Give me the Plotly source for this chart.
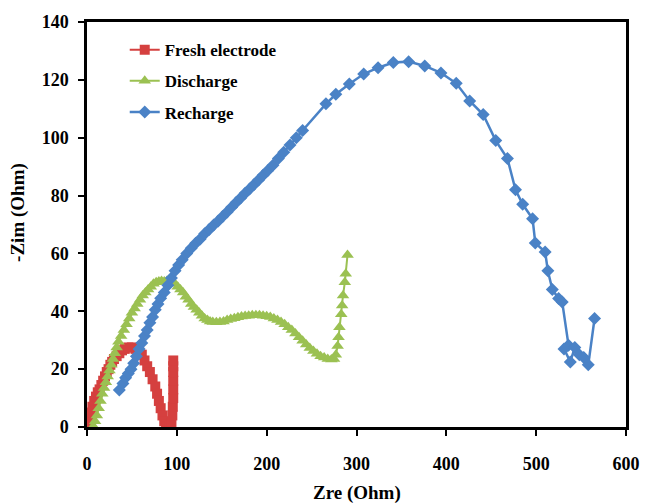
import plotly.graph_objects as go

# Fresh electrode (red squares)
fresh_x = [1, 2, 4, 6, 8, 10, 12, 14, 16, 18, 20, 22, 24, 26, 28, 30, 33, 36, 39, 42, 46, 50, 54, 58,
           61, 64, 67, 70, 73, 76, 78, 80, 82, 84, 86, 88, 90, 92, 94, 95, 95.5, 96, 96, 96, 96, 96, 96]
fresh_y = [1, 3, 5, 7, 9, 10.5, 12, 13, 14.5, 16, 17.5, 19, 20, 21.5, 22.5, 23.5, 24.5, 25.5, 26.5, 27,
           27.5, 27.5, 27, 26, 25, 23, 21, 19, 16.5, 14, 11.5, 9, 6.5, 4, 2, 0.8, 0.3, 0.5, 1.5, 4, 7,
           10, 13, 16, 19, 21, 23]

# Discharge (green triangles)
dis_x = [7, 9, 11, 13, 15, 17, 19, 21, 23, 25, 27, 29, 31, 33, 35, 38, 41, 44, 47, 50, 53, 56, 59, 62,
         65, 68, 71, 74, 77, 80, 83, 86, 89, 92, 95, 98, 101, 104, 107, 110, 113, 116, 119, 122, 125,
         128, 131, 134, 137, 140, 144, 148, 152, 156, 160, 164, 168, 172, 176, 180, 184, 188, 192, 196,
         200, 204, 208, 212, 216, 220, 224, 228, 232, 236, 240, 244, 248, 252, 256, 260, 264, 268, 272,
         275, 277, 279, 280, 281, 283, 284, 285, 287, 288, 290]
dis_y = [0.3, 2, 4, 6.5, 9, 11.5, 13.5, 15.5, 17.5, 19.5, 21.5, 23.5, 25.5, 27.5, 29.5, 31.5, 33.5,
         35.5, 37.5, 39.5, 41, 42.5, 44, 45.5, 46.5, 47.5, 48.5, 49.5, 50, 50.3, 50.5, 50.3, 50.5, 50.5,
         50.3, 49.5, 48.5, 47.5, 46.5, 45, 44, 42.5, 41.5, 40.5, 39.5, 38.5, 37.5, 37, 36.5, 36.3, 36.2,
         36.3, 36.5, 37, 37.3, 37.6, 37.9, 38.2, 38.4, 38.5, 38.6, 38.6, 38.6, 38.5, 38.3, 38, 37.5, 37,
         36.3, 35.5, 34.5, 33.5, 32.3, 31, 29.8, 28.5, 27.3, 26.3, 25.3, 24.5, 24, 23.5, 23.3, 23.5, 25,
         28, 31, 34.5, 39, 42, 45.5, 50, 53, 59.5]

# Recharge (blue diamonds)
rec_x = [36, 40, 43, 46, 49, 52, 55, 58, 61, 64, 67, 70, 73, 76, 79, 82, 86, 90, 94, 98, 102, 106, 111,
         116, 121, 126, 131, 136, 141, 146, 151, 156, 161, 166, 171, 176, 181, 186, 191, 196, 201, 207,
         213, 219, 226, 233, 240, 266, 277, 292, 308, 324, 341, 358, 376, 394, 411, 426, 441, 455, 468,
         477, 485, 496, 499, 510, 513, 518, 525, 529, 536, 531, 538, 543, 548, 553, 558, 565]
rec_y = [12.8, 15, 17, 18.5, 20, 22, 24.5, 27, 29, 31.5, 33.5, 36, 38, 40.5, 42.5, 44.5, 46.5, 49, 51.5,
         54, 56, 57.8, 60, 61.8, 63.5, 65, 66.8, 68.3, 69.8, 71.2, 72.8, 74.3, 76, 77.6, 79.2, 80.8, 82.3,
         83.8, 85.4, 87, 88.6, 90.5, 92.8, 95, 97.5, 100, 102.5, 111.7, 115, 118.6, 122, 124.2, 126,
         126.3, 124.8, 122.4, 118.8, 112.7, 108, 99, 92.8, 82, 77, 72, 63.6, 60.5, 54, 47.5, 44.4, 43.2,
         28.3, 27, 22.5, 27.5, 25, 24, 21.5, 37.5]

x_ticks = [0, 100, 200, 300, 400, 500, 600]
y_ticks = [0, 20, 40, 60, 80, 100, 120, 140]

RED = "#D5403F"
GREEN = "#9BC152"
BLUE = "#4A82C6"
FONT = "Liberation Serif"

fig = go.Figure()
fig.add_trace(go.Scatter(x=fresh_x, y=fresh_y, mode="lines+markers", name="Fresh electrode",
                         legendgroup="a",
                         line=dict(color=RED, width=2),
                         marker=dict(symbol="square", size=10, color=RED)))
fig.add_trace(go.Scatter(x=dis_x, y=dis_y, mode="lines+markers", name="Discharge",
                         legendgroup="b",
                         line=dict(color=GREEN, width=2),
                         marker=dict(symbol="triangle-up", size=11, color=GREEN)))
fig.add_trace(go.Scatter(x=rec_x, y=rec_y, mode="lines+markers", name="Recharge",
                         legendgroup="c",
                         line=dict(color=BLUE, width=2.5),
                         marker=dict(symbol="diamond", size=10, color=BLUE)))

axis_common = dict(showgrid=False, zeroline=False, showline=True, linecolor="black", linewidth=2.5,
                   mirror=True, ticks="outside", ticklen=6, tickwidth=2, tickcolor="black",
                   tickfont=dict(family=FONT, size=18, color="black", weight="bold"))

title_font = dict(family=FONT, size=19, color="black", weight="bold")

fig.update_layout(
    width=652, height=504,
    margin=dict(l=87, r=21, t=21, b=77),
    paper_bgcolor="white", plot_bgcolor="white",
    showlegend=True,
    legend=dict(x=0.07, y=0.975, xanchor="left", yanchor="top", traceorder="grouped",
                tracegroupgap=6, bgcolor="rgba(0,0,0,0)",
                font=dict(family=FONT, size=17, color="black", weight="bold")),
    xaxis=dict(range=[0, 600], tickvals=x_ticks, ticklabelstandoff=13, **axis_common),
    yaxis=dict(range=[0, 140], tickvals=y_ticks, ticklabelstandoff=6, **axis_common),
    annotations=[
        dict(text="Zre (Ohm)", xref="paper", yref="paper", x=0.5, y=-0.162,
             xanchor="center", yanchor="middle", showarrow=False, font=title_font),
        dict(text="-Zim (Ohm)", xref="paper", yref="paper", x=-0.127, y=0.53,
             xanchor="center", yanchor="middle", showarrow=False, textangle=-90, font=title_font),
    ],
)

fig.write_html("out.html")
